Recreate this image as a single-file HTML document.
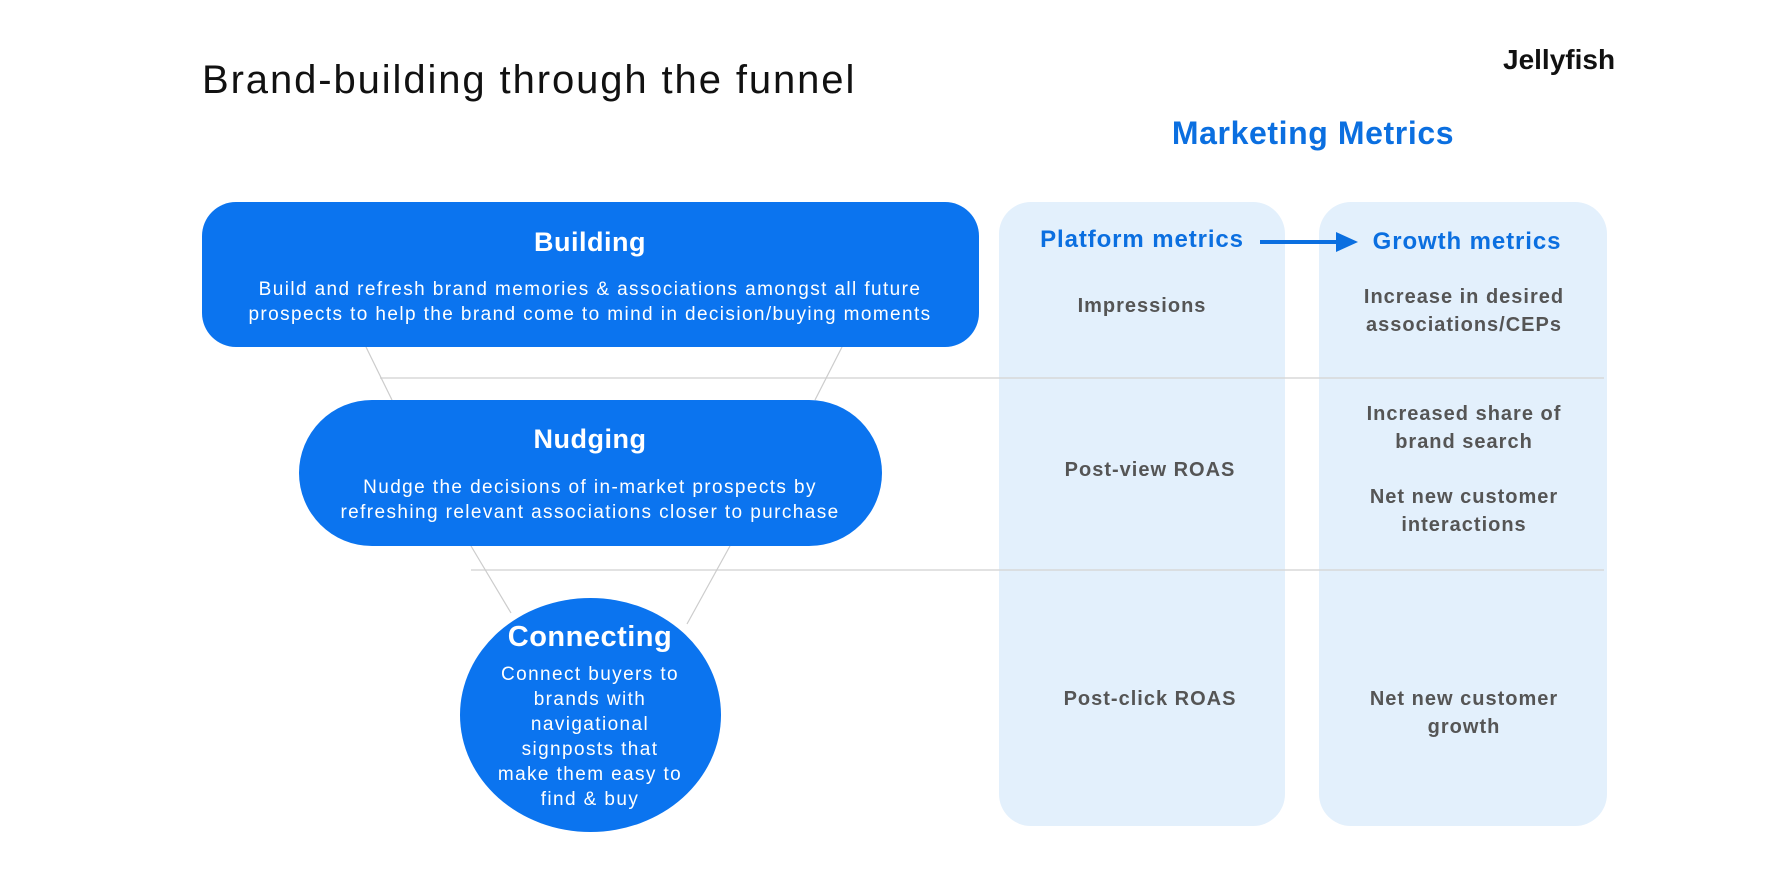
<!DOCTYPE html>
<html><head><meta charset="utf-8"><style>
body{margin:0;width:1780px;height:890px;background:#fff;position:relative;overflow:hidden;font-family:"Liberation Sans",sans-serif}
.a{position:absolute;white-space:nowrap}
.c{position:absolute;transform:translateX(-50%);text-align:center;white-space:nowrap}
.blue{background:#0b74ef;color:#fff;position:absolute}
.col{position:absolute;background:#e3f0fc;border-radius:32px;top:202px;height:624px}
.m{color:#555;font-size:20px;font-weight:bold;line-height:28px;letter-spacing:1px}
.h{color:#0b6fe0;font-size:24px;font-weight:bold;letter-spacing:0.9px}
.d{font-size:19px;line-height:25px;letter-spacing:1.4px}
</style></head><body>
<div class="a" style="left:202px;top:58px;font-size:40px;color:#111;letter-spacing:1.9px">Brand-building through the funnel</div>
<div class="a" style="left:1503px;top:44px;font-size:28px;font-weight:bold;color:#111;letter-spacing:0px">Jellyfish</div>
<div class="c" style="left:1313px;top:115px;font-size:32px;font-weight:bold;color:#0b6fe0;letter-spacing:0.6px">Marketing Metrics</div>

<div class="col" style="left:999px;width:286px"></div>
<div class="col" style="left:1319px;width:288px"></div>

<svg class="a" style="left:0;top:0" width="1780" height="890">
<line x1="380" y1="378" x2="1604" y2="378" stroke="#d8d8d8" stroke-width="1.5"/>
<line x1="471" y1="570" x2="1604" y2="570" stroke="#d8d8d8" stroke-width="1.5"/>
<line x1="366" y1="347" x2="392" y2="400" stroke="#ccc" stroke-width="1.2"/>
<line x1="842" y1="347" x2="815" y2="400" stroke="#ccc" stroke-width="1.2"/>
<line x1="471" y1="546" x2="511" y2="613" stroke="#ccc" stroke-width="1.2"/>
<line x1="730" y1="546" x2="687" y2="624" stroke="#ccc" stroke-width="1.2"/>
<line x1="1260" y1="242" x2="1340" y2="242" stroke="#0b6fe0" stroke-width="4"/>
<polygon points="1336,232 1358,242 1336,252" fill="#0b6fe0"/>
</svg>

<div class="blue" style="left:202px;top:202px;width:777px;height:145px;border-radius:34px"></div>
<div class="c" style="left:590px;top:227px;font-size:27px;font-weight:bold;color:#fff;letter-spacing:0.5px">Building</div>
<div class="c d" style="left:590px;top:277px;color:#fff">Build and refresh brand memories &amp; associations amongst all future<br>prospects to help the brand come to mind in decision/buying moments</div>

<div class="blue" style="left:299px;top:400px;width:583px;height:146px;border-radius:73px"></div>
<div class="c" style="left:590px;top:424px;font-size:27px;font-weight:bold;color:#fff;letter-spacing:0.5px">Nudging</div>
<div class="c d" style="left:590px;top:475px;color:#fff">Nudge the decisions of in-market prospects by<br>refreshing relevant associations closer to purchase</div>

<div class="blue" style="left:460px;top:598px;width:261px;height:234px;border-radius:50%"></div>
<div class="c" style="left:590px;top:621px;font-size:29px;font-weight:bold;color:#fff;letter-spacing:0.5px">Connecting</div>
<div class="c d" style="left:590px;top:662px;color:#fff">Connect buyers to<br>brands with<br>navigational<br>signposts that<br>make them easy to<br>find &amp; buy</div>

<div class="c h" style="left:1142px;top:226px">Platform metrics</div>
<div class="c h" style="left:1467px;top:228px">Growth metrics</div>

<div class="c m" style="left:1142px;top:292px">Impressions</div>
<div class="c m" style="left:1464px;top:283px">Increase in desired<br>associations/CEPs</div>
<div class="c m" style="left:1150px;top:456px">Post-view ROAS</div>
<div class="c m" style="left:1464px;top:400px">Increased share of<br>brand search</div>
<div class="c m" style="left:1464px;top:483px">Net new customer<br>interactions</div>
<div class="c m" style="left:1150px;top:685px">Post-click ROAS</div>
<div class="c m" style="left:1464px;top:685px">Net new customer<br>growth</div>
</body></html>
